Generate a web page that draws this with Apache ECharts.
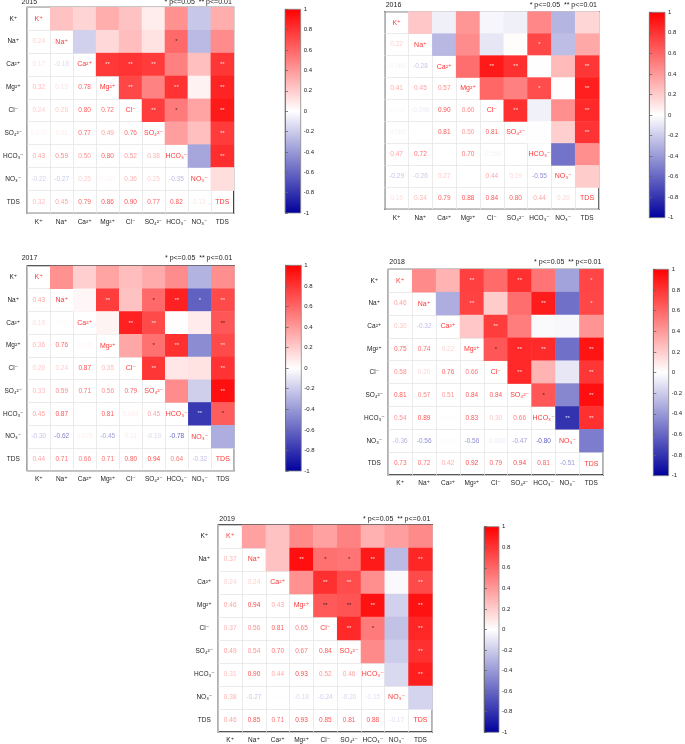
<!DOCTYPE html>
<html>
<head>
<meta charset="utf-8">
<script src="https://cdn.jsdelivr.net/npm/echarts@6/dist/echarts.min.js"></script>
<style>
  html, body { margin: 0; padding: 0; background: #fff; }
  #main { width: 685px; height: 744px; }
</style>
</head>
<body>
<div id="main"></div>
<script>
// ion labels (rows / columns of every matrix)
const ions = ['K⁺', 'Na⁺', 'Ca²⁺', 'Mg²⁺', 'Cl⁻', 'SO₄²⁻', 'HCO₃⁻', 'NO₃⁻', 'TDS']
const years = ['2015', '2016', '2017', '2018', '2019']

// lower triangle of the correlation matrix, row by row
const r2015 = [
  [],
  [0.24],
  [0.17, -0.18],
  [0.32, 0.15, 0.78],
  [0.24, 0.26, 0.80, 0.72],
  [0.070, 0.11, 0.77, 0.49, 0.76],
  [0.43, 0.59, 0.50, 0.80, 0.52, 0.38],
  [-0.22, -0.27, 0.25, 0.052, 0.36, 0.25, -0.35],
  [0.32, 0.45, 0.79, 0.86, 0.90, 0.77, 0.82, 0.13]
]
const r2016 = [
  [],
  [0.22],
  [-0.060, -0.28],
  [0.41, 0.45, 0.57],
  [-0.035, -0.099, 0.90, 0.60],
  [-0.060, 0.011, 0.81, 0.50, 0.81],
  [0.47, 0.72, 0.0046, 0.70, -0.056, 0.0050],
  [-0.29, -0.26, 0.27, -0.0039, 0.44, 0.19, -0.55],
  [0.16, 0.34, 0.79, 0.88, 0.84, 0.80, 0.44, 0.20]
]
const r2017 = [
  [],
  [0.43],
  [0.19, 0.030],
  [0.36, 0.76, 0.045],
  [0.26, 0.24, 0.87, 0.35],
  [0.33, 0.59, 0.71, 0.56, 0.79],
  [0.45, 0.87, 0.0032, 0.81, 0.094, 0.45],
  [-0.30, -0.62, 0.078, -0.45, 0.11, -0.19, -0.78],
  [0.44, 0.71, 0.66, 0.71, 0.80, 0.94, 0.64, -0.32]
]
const r2018 = [
  [],
  [0.46],
  [0.30, -0.32],
  [0.75, 0.74, 0.22],
  [0.58, 0.20, 0.76, 0.66],
  [0.81, 0.57, 0.51, 0.84, 0.84],
  [0.54, 0.89, -0.020, 0.83, 0.30, 0.66],
  [-0.36, -0.56, -0.029, -0.56, -0.093, -0.47, -0.80],
  [0.73, 0.72, 0.42, 0.92, 0.79, 0.94, 0.81, -0.51]
]
const r2019 = [
  [],
  [0.37],
  [0.24, 0.24],
  [0.46, 0.94, 0.43],
  [0.37, 0.56, 0.81, 0.65],
  [0.49, 0.54, 0.70, 0.67, 0.84],
  [0.31, 0.90, 0.44, 0.93, 0.52, 0.46],
  [0.38, -0.27, -0.021, -0.18, -0.24, -0.20, -0.15],
  [0.46, 0.85, 0.71, 0.93, 0.85, 0.81, 0.88, -0.17]
]

// significance marks in the upper triangle: [row, col, mark]
const s2015 = [[1, 6, '*'], [2, 3, '**'], [2, 4, '**'], [2, 5, '**'], [2, 8, '**'], [3, 4, '**'], [3, 6, '**'], [3, 8, '**'],
  [4, 5, '**'], [4, 6, '*'], [4, 8, '**'], [5, 8, '**'], [6, 8, '**']]
const s2016 = [[1, 6, '*'], [2, 4, '**'], [2, 5, '**'], [2, 8, '**'], [3, 6, '*'], [3, 8, '**'], [4, 5, '**'], [4, 8, '**'], [5, 8, '**']]
const s2017 = [[1, 3, '**'], [1, 5, '*'], [1, 6, '**'], [1, 7, '*'], [1, 8, '**'], [2, 4, '**'], [2, 5, '**'], [2, 8, '**'],
  [3, 5, '*'], [3, 6, '**'], [3, 8, '**'], [4, 5, '**'], [4, 8, '**'], [5, 8, '**'], [6, 7, '**'], [6, 8, '*']]
const s2018 = [[0, 3, '**'], [0, 5, '**'], [0, 8, '*'], [1, 3, '**'], [1, 6, '**'], [1, 8, '*'], [2, 4, '**'], [3, 4, '*'],
  [3, 5, '**'], [3, 6, '**'], [3, 8, '**'], [4, 5, '**'], [4, 8, '**'], [5, 6, '*'], [5, 8, '**'], [6, 7, '**'], [6, 8, '**']]
const s2019 = [[1, 3, '**'], [1, 4, '*'], [1, 5, '*'], [1, 6, '**'], [1, 8, '**'], [2, 4, '**'], [2, 5, '**'], [2, 8, '**'],
  [3, 4, '**'], [3, 5, '**'], [3, 6, '**'], [3, 8, '**'], [4, 5, '**'], [4, 6, '*'], [4, 8, '**'], [5, 8, '**'], [6, 8, '**']]

const matrices = [r2015, r2016, r2017, r2018, r2019]
const marks = [s2015, s2016, s2017, s2018, s2019]

// placement of each panel (px)
const layout = [
  { grid: [20.5, 7.3, 213.3, 206], bar: [285, 9.3, 15.7, 203.7], titleY: 2.7, rowLabels: true },
  { grid: [384.7, 11.7, 214.3, 197.6], bar: [649.3, 12.3, 15.7, 205.4], titleY: 6, rowLabels: false },
  { grid: [20.7, 266, 213.6, 204.7], bar: [285.7, 265.3, 15.6, 205.7], titleY: 259, rowLabels: true },
  { grid: [388.3, 269.3, 215, 205.7], bar: [653.3, 269.3, 15.7, 206.4], titleY: 262.3, rowLabels: true },
  { grid: [218.3, 525, 214, 207.3], bar: [484, 526.7, 15, 205.6], titleY: 520, rowLabels: true }
]

const FONT = '"Liberation Sans", "DejaVu Sans", sans-serif'
const BLUE = [0, 0, 156]
const WHITE = [255, 255, 255]
const RED = [255, 0, 0]

function mix(a, b, t) {
  return 'rgb(' + a.map((c, k) => Math.round(c + (b[k] - c) * t)).join(',') + ')'
}
function cmap(v) {
  return v >= 0 ? mix(WHITE, RED, v) : mix(WHITE, BLUE, -v)
}
function fmt(v) {
  return Math.abs(v) < 0.1 ? v.toPrecision(2) : v.toFixed(2)
}

let grids = [], xAxes = [], yAxes = [], series = [], titles = [], heatIdx = []

layout.forEach((L, p) => {
  const r = matrices[p]
  const [gl, gt, gw, gh] = L.grid
  // heatmap grid
  grids.push({
    left: gl, top: gt, width: gw, height: gh,
    show: true, borderColor: '#222', borderWidth: 1.3, backgroundColor: '#fff'
  })
  const gi = grids.length - 1
  xAxes.push({
    type: 'category', gridIndex: gi, data: ions, position: 'bottom',
    axisLine: { show: false }, axisTick: { show: false },
    axisLabel: { fontSize: 6.5, color: '#222', margin: 5, fontFamily: FONT, interval: 0 },
    splitLine: { show: true, lineStyle: { color: '#e6e6e6', width: 0.8 } }
  })
  yAxes.push({
    type: 'category', gridIndex: gi, data: ions, inverse: true,
    axisLine: { show: false }, axisTick: { show: false },
    axisLabel: { show: L.rowLabels, fontSize: 6.5, color: '#222', margin: 14, align: 'center', fontFamily: FONT, interval: 0 },
    splitLine: { show: true, lineStyle: { color: '#e6e6e6', width: 0.8 } }
  })

  // upper triangle cells, mirrored from the lower triangle
  const cells = []
  for (let i = 0; i < 9; i++) {
    for (let j = i + 1; j < 9; j++) cells.push([j, i, r[j][i]])
  }
  series.push({
    type: 'heatmap', xAxisIndex: gi, yAxisIndex: gi, data: cells,
    emphasis: { disabled: true }, z: 2
  })
  heatIdx.push(series.length - 1)

  // texts: lower values, diagonal names, significance marks
  const texts = []
  for (let i = 0; i < 9; i++) {
    for (let j = 0; j < i; j++) {
      texts.push({ value: [j, i], label: { formatter: fmt(r[i][j]), color: cmap(r[i][j]) } })
    }
    texts.push({ value: [i, i], label: { formatter: ions[i], color: '#ff0000', fontSize: 7 } })
  }
  marks[p].forEach(([i, j, m]) => {
    const v = r[j][i]
    const light = v > 0.68 || v < -0.5
    texts.push({ value: [j, i], label: { formatter: m, color: light ? '#fff' : '#111', fontSize: 6 } })
  })
  series.push({
    type: 'scatter', xAxisIndex: gi, yAxisIndex: gi, data: texts,
    symbolSize: 1, itemStyle: { color: 'rgba(0,0,0,0)' }, z: 5, silent: true,
    label: { show: true, position: 'inside', fontSize: 6.5, fontFamily: FONT }
  })

  // colour bar: its own grid with a gradient and a value axis
  const [bl, bt, bw, bh] = L.bar
  grids.push({
    left: bl, top: bt, width: bw, height: bh, show: true,
    borderColor: '#888', borderWidth: 0.8,
    backgroundColor: new echarts.graphic.LinearGradient(0, 0, 0, 1, [
      { offset: 0, color: '#ff0000' }, { offset: 0.5, color: '#ffffff' }, { offset: 1, color: '#00009c' }
    ])
  })
  const bi = grids.length - 1
  xAxes.push({ type: 'value', gridIndex: bi, show: false, min: 0, max: 1 })
  yAxes.push({
    type: 'value', gridIndex: bi, position: 'right', min: -1, max: 1, interval: 0.2,
    axisLine: { show: true, lineStyle: { color: '#666', width: 0.8 } },
    axisTick: { show: true, length: 3, lineStyle: { color: '#666', width: 0.8 } },
    axisLabel: { fontSize: 6, color: '#222', margin: 3, fontFamily: FONT, formatter: v => String(Math.round(v * 10) / 10) },
    splitLine: { show: false }
  })

  titles.push({
    text: years[p], left: gl + 1, top: L.titleY - 4, padding: 0,
    textStyle: { fontSize: 7, fontWeight: 'normal', color: '#222', fontFamily: FONT }
  })
  titles.push({
    text: '* p<=0.05  ** p<=0.01', right: 685 - (gl + gw) + 2, top: L.titleY - 4, padding: 0,
    textStyle: { fontSize: 7, fontWeight: 'normal', color: '#222', fontFamily: FONT }
  })
})

const myChart = echarts.init(document.getElementById('main'))
myChart.setOption({
  animation: false,
  backgroundColor: '#fff',
  title: titles,
  grid: grids,
  xAxis: xAxes,
  yAxis: yAxes,
  visualMap: {
    type: 'continuous', show: false, min: -1, max: 1, seriesIndex: heatIdx, dimension: 2,
    inRange: { color: ['#00009c', '#ffffff', '#ff0000'] }
  },
  series: series
})
</script>
</body>
</html>
